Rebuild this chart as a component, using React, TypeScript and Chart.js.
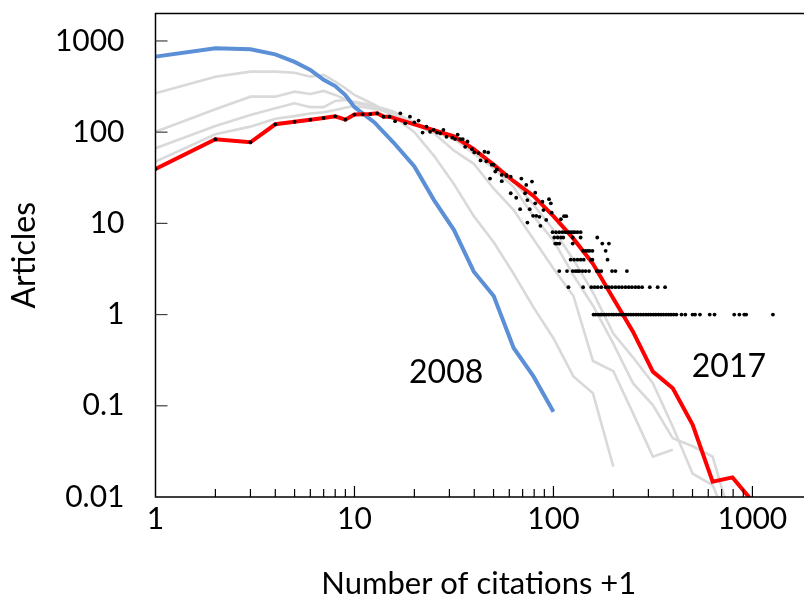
import React, { useEffect, useRef } from 'react';
import { Chart, registerables } from 'chart.js';
Chart.register(...registerables);

const FONT = 'Lato';

// 2017 (red) – number of articles per citation count (+1)
const redX = [1, 2, 3, 4, 5, 6, 7, 8, 9, 10, 11, 12, 13, 14, 15, 20, 25.1, 31.6, 39.8, 50.1, 63.1, 79.4, 100, 126, 158, 200, 251, 316, 398, 501, 631, 794, 1000];
const redY = [39.5, 83.6, 77.5, 122, 130, 137, 143, 149, 137, 156, 157, 158, 161, 148, 148, 122, 105, 90, 65, 44, 29, 20, 12, 6.8, 3.6, 1.5, 0.65, 0.237, 0.156, 0.062, 0.0147, 0.0164, 0.009];

// 2008 (blue)
const blueX = [1, 2, 3, 4, 5, 6, 7, 8, 9, 10, 12.6, 15.8, 20, 25.1, 31.6, 39.8, 50.1, 63.1, 79.4, 100];
const blueY = [673, 832, 811, 714, 590, 481, 375, 320, 255, 188, 128, 76, 42, 18, 8.5, 2.95, 1.6, 0.43, 0.21, 0.086];

// intermediate years (grey)
const greyAX = [1, 2, 3, 4, 5, 6, 7, 8, 9, 10, 12.6, 15.8, 20, 25.1, 31.6, 39.8, 50.1, 63.1, 79.4, 100, 126, 158, 200];
const greyAY = [267, 406, 461, 461, 449, 406, 424, 358, 303, 256, 200, 148, 100, 55, 27, 12, 6.2, 2.8, 1.2, 0.55, 0.21, 0.137, 0.0215];

const greyBX = [1, 2, 3, 4, 5, 6, 7, 8, 9, 10, 12.6, 15.8, 20, 25.1, 31.6, 39.8, 50.1, 63.1, 79.4, 100, 126, 158, 200, 251, 316, 398];
const greyBY = [101, 178, 245, 245, 278, 262, 283, 256, 229, 210, 190, 160, 122, 97, 63, 45, 24, 14, 6.7, 3.2, 1.6, 0.31, 0.24, 0.083, 0.0277, 0.033];

const greyCX = [1, 2, 3, 4, 5, 6, 7, 8, 9, 10, 12.6, 15.8, 20, 25.1, 31.6, 39.8, 50.1, 63.1, 79.4, 100, 126, 158, 200, 251, 316, 398, 501, 631, 794];
const greyCY = [66.6, 117, 154, 183, 207, 188, 188, 220, 225, 215, 195, 168, 125, 100, 85, 58, 40, 25, 12, 6.5, 2.7, 1.25, 0.48, 0.177, 0.102, 0.044, 0.036, 0.0277, 0.005];

const greyDX = [1, 2, 3, 4, 5, 6, 7, 8, 9, 10, 12.6, 15.8, 20, 25.1, 31.6, 39.8, 50.1, 63.1, 79.4, 100, 126, 158, 200, 251, 316, 398, 501, 631, 794];
const greyDY = [47.5, 95, 115, 140, 150, 160, 165, 175, 185, 195, 180, 162, 128, 105, 88, 62, 46, 29, 16, 8.5, 4, 1.75, 0.62, 0.34, 0.177, 0.059, 0.018, 0.0135, 0.004];

// individual citation counts of 2017 (black dots)
const dotX = [
  1, 2, 3, 4, 5, 6, 7, 8, 9, 10, 11, 12, 13, 14, 15, 16, 17, 18, 19, 20, 21, 22, 23, 24, 25, 26, 27, 28, 29, 31, 32, 33, 34, 35, 36, 37, 39, 40, 42, 43, 45, 46, 47, 48, 49, 50, 51, 52, 55, 55, 58, 58, 61, 61, 65, 68, 69, 72, 73, 74, 74, 78, 79, 81, 81, 82, 85, 86, 88, 89, 92, 95, 97, 98, 109, 113, 116, 76,
  99, 103, 107, 111, 115, 119, 122, 125, 128, 132, 137,
  101, 105, 109, 112, 125, 137, 166,
  102, 104, 107, 125, 176, 190,
  141, 145, 149, 152, 157, 183,
  122, 127, 132, 137, 142, 154, 157, 187,
  107, 117, 125, 129, 132, 135, 140, 145, 151, 165, 169, 174, 197, 205, 234,
  119, 141, 155, 161, 167, 174, 183, 190, 197, 205, 213, 221, 230, 239, 248, 258, 268, 279, 305, 334, 364,
  159, 163, 168, 172, 175, 180, 185, 190, 196, 201, 207, 213, 219, 225, 232, 238, 245, 252, 260, 267, 275, 283, 292, 300, 309, 318, 327, 337, 347, 357, 368, 379, 390, 402, 415, 440, 460, 500, 515, 545, 610, 645, 810, 860, 910, 930, 1268
];
const dotY = [
  39.5, 83.6, 77.5, 122, 130, 137, 143, 149, 137, 156, 157, 158, 161, 148, 148, 132, 161, 125, 148, 128, 134, 99, 115, 101, 106, 99, 97, 106, 89, 87, 84, 94, 84, 84, 69, 79, 65, 60, 59, 49, 61, 48, 60, 31, 44, 44, 37, 39, 29, 34, 34, 33, 32.5, 21.4, 19.1, 14.3, 31, 21.4, 26.4, 18, 10.2, 28.7, 12.1, 21.7, 16.6, 12.1, 11.8, 9.4, 17.3, 14, 10.9, 18.4, 16.6, 13.1, 11.1, 12, 12, 14.3,
  8, 8, 8, 8, 8, 8, 8, 8, 8, 8, 8,
  7, 7, 7, 7, 7, 7, 7,
  6, 6, 6, 6, 6, 6,
  5, 5, 5, 5, 5, 5,
  4, 4, 4, 4, 4, 4, 4, 4,
  3, 3, 3, 3, 3, 3, 3, 3, 3, 3, 3, 3, 3, 3, 3,
  2, 2, 2, 2, 2, 2, 2, 2, 2, 2, 2, 2, 2, 2, 2, 2, 2, 2, 2, 2, 2,
  1, 1, 1, 1, 1, 1, 1, 1, 1, 1, 1, 1, 1, 1, 1, 1, 1, 1, 1, 1, 1, 1, 1, 1, 1, 1, 1, 1, 1, 1, 1, 1, 1, 1, 1, 1, 1, 1, 1, 1, 1, 1, 1, 1, 1, 1, 1
];

const xTickValues = [1, 10, 100, 1000];
const minorMultipliers = [2, 3, 4, 5, 6, 7, 8, 9];
const yTickValues = [0.01, 0.1, 1, 10, 100, 1000];
const X_MIN = 1;
const X_MAX = 1775;
const Y_MIN = 0.01;
const Y_MAX = 2000;

const annTexts = ['2008', '2017'];
const annX = [28.9, 762];
const annY = [0.23, 0.266];

const pts = (xs: number[], ys: number[]) => xs.map((x, i) => ({ x, y: ys[i] }));

const framePlugin = {
  id: 'frame',
  afterDatasetsDraw(chart: any) {
    const { ctx, chartArea, scales } = chart;
    const { left, right, top, bottom } = chartArea;
    const xs = scales.x;
    const ys = scales.y;
    ctx.save();
    ctx.strokeStyle = '#000';
    ctx.lineWidth = 1.5;
    ctx.beginPath();
    ctx.moveTo(right + 2, top);
    ctx.lineTo(left, top);
    ctx.lineTo(left, bottom);
    ctx.lineTo(right + 2, bottom);
    ctx.stroke();

    ctx.lineWidth = 1.2;
    ctx.strokeStyle = '#404040';
    yTickValues.forEach((v) => {
      const py = ys.getPixelForValue(v);
      ctx.beginPath();
      ctx.moveTo(left, py);
      ctx.lineTo(left + 12, py);
      ctx.stroke();
    });
    ctx.strokeStyle = '#000';
    xTickValues.forEach((d) => {
      const px = xs.getPixelForValue(d);
      if (d > X_MIN) {
        ctx.beginPath();
        ctx.moveTo(px, bottom);
        ctx.lineTo(px, bottom - 11);
        ctx.stroke();
      }
      minorMultipliers.forEach((m) => {
        const v = d * m;
        if (v >= X_MAX) return;
        const p = xs.getPixelForValue(v);
        ctx.beginPath();
        ctx.moveTo(p, bottom);
        ctx.lineTo(p, bottom - 8);
        ctx.stroke();
      });
    });

    ctx.fillStyle = '#000';
    ctx.font = `32px ${FONT}`;
    ctx.textAlign = 'center';
    ctx.textBaseline = 'middle';
    annTexts.forEach((t, i) => {
      ctx.fillText(t, xs.getPixelForValue(annX[i]), ys.getPixelForValue(annY[i]));
    });
    ctx.restore();
  },
};

export default function App() {
  const ref = useRef<HTMLCanvasElement>(null);
  useEffect(() => {
    document.body.style.margin = '0';
    const canvas = ref.current;
    if (!canvas) return;
    const grey = '#D9D9D9';
    const chart = new Chart(canvas, {
      type: 'line',
      data: {
        datasets: [
          { type: 'scatter', label: 'dots', data: pts(dotX, dotY), showLine: false, pointRadius: 1.9, pointBackgroundColor: '#000', pointBorderWidth: 0, borderColor: '#000', order: 0 } as any,
          { label: '2017', data: pts(redX, redY), borderColor: '#FF0000', borderWidth: 4, pointRadius: 0, tension: 0, fill: false, order: 1 },
          { label: '2008', data: pts(blueX, blueY), borderColor: '#5B8FD6', borderWidth: 4, pointRadius: 0, tension: 0, fill: false, order: 2 },
          { label: 'A', data: pts(greyAX, greyAY), borderColor: grey, borderWidth: 2.6, pointRadius: 0, tension: 0, fill: false, order: 3 },
          { label: 'B', data: pts(greyBX, greyBY), borderColor: grey, borderWidth: 2.6, pointRadius: 0, tension: 0, fill: false, order: 3 },
          { label: 'C', data: pts(greyCX, greyCY), borderColor: grey, borderWidth: 2.6, pointRadius: 0, tension: 0, fill: false, order: 3 },
          { label: 'D', data: pts(greyDX, greyDY), borderColor: grey, borderWidth: 2.6, pointRadius: 0, tension: 0, fill: false, order: 3 },
        ],
      },
      options: {
        animation: false,
        responsive: false,
        maintainAspectRatio: false,
        layout: { padding: { left: 0, right: 0, top: 13.5, bottom: 0 } },
        plugins: { legend: { display: false }, tooltip: { enabled: false } },
        scales: {
          x: {
            type: 'logarithmic',
            min: X_MIN,
            max: X_MAX,
            grid: { display: false, drawTicks: false },
            border: { display: false },
            afterBuildTicks: (s: any) => { s.ticks = xTickValues.map((v) => ({ value: v, major: true })); },
            afterFit: (s: any) => { s.height = 108; s.paddingLeft = 0; s.paddingRight = 0; },
            ticks: { autoSkip: false, maxRotation: 0, minRotation: 0, padding: 4, color: '#000', font: { family: FONT, size: 30 }, callback: (v: any) => String(v) },
            title: { display: true, text: 'Number of citations +1', color: '#000', font: { family: FONT, size: 31 }, padding: { top: 0, bottom: 2 } },
          },
          y: {
            type: 'logarithmic',
            min: Y_MIN,
            max: Y_MAX,
            grid: { display: false, drawTicks: false },
            border: { display: false },
            afterBuildTicks: (s: any) => { s.ticks = yTickValues.map((v) => ({ value: v, major: true })); },
            afterFit: (s: any) => { s.width = 155.5; s.paddingTop = 0; s.paddingBottom = 0; },
            ticks: { autoSkip: false, padding: 31, color: '#000', font: { family: FONT, size: 30 }, callback: (v: any) => String(v) },
            title: { display: true, text: 'Articles', color: '#000', font: { family: FONT, size: 32 }, padding: { top: 5, bottom: 0 } },
          },
        },
      },
      plugins: [framePlugin],
    });
    return () => chart.destroy();
  }, []);
  return (
    <div style={{ width: 806, height: 605 }}>
      <canvas ref={ref} width={806} height={605} style={{ display: 'block', width: 806, height: 605 }} />
    </div>
  );
}
